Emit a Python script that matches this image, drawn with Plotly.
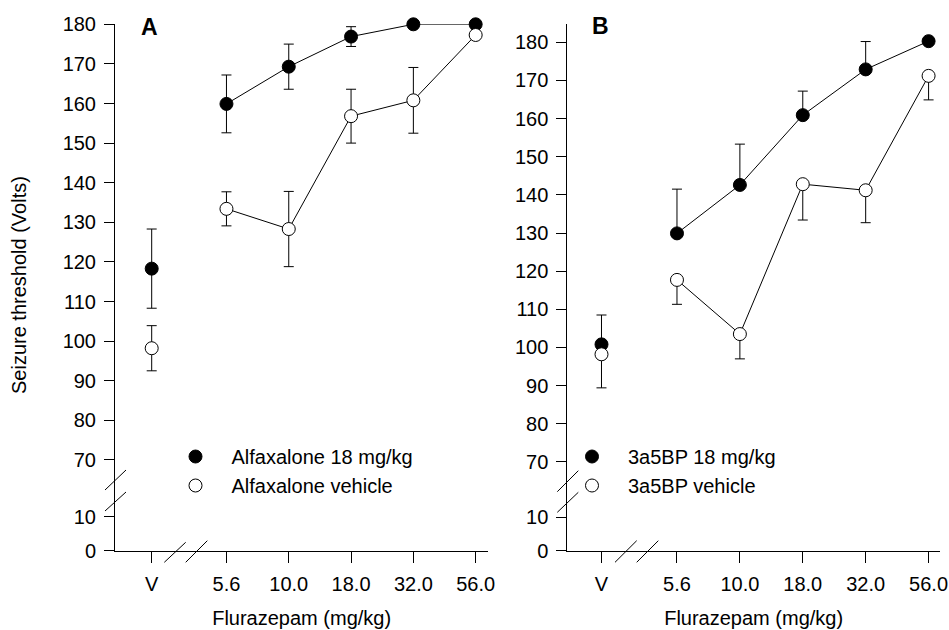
import plotly.graph_objects as go

W, H = 949, 630
FONT = "Arial, Liberation Sans, sans-serif"

# ---------------- data ----------------
x_labels = ["V", "5.6", "10.0", "18.0", "32.0", "56.0"]
x_positions = [0, 1.2, 2.2, 3.2, 4.2, 5.2]   # broken axis: V set apart from the doses

# Panel A (alfaxalone)
a_drug_v, a_drug_v_err = 118.3, 10.0
a_drug = [159.9, 169.3, 176.9, 180.0, 180.0]
a_drug_err = [7.3, 5.7, 2.5, 0.0, 0.0]
a_veh_v, a_veh_v_err = 98.2, 5.7
a_veh = [133.4, 128.3, 156.8, 160.8, 177.3]
a_veh_err = [4.3, 9.5, 6.8, 8.3, 0.0]

# Panel B (3a5BP)
b_drug_v, b_drug_v_err = 100.8, 7.7
b_drug = [129.9, 142.6, 160.9, 172.9, 180.3]
b_drug_err = [11.6, 10.7, 6.3, 7.3, 0.0]
b_veh_v, b_veh_v_err = 98.2, 8.8
b_veh = [117.7, 103.5, 142.8, 141.2, 171.2]
b_veh_err = [6.4, 6.5, 9.4, 8.5, 6.3]

y_top_ticks = [70, 80, 90, 100, 110, 120, 130, 140, 150, 160, 170, 180]
y_bot_ticks = [0, 10]

# ---------------- helpers ----------------
def px(x):
    return x / W

def py(y):
    return 1 - y / H

fig = go.Figure()

MSIZE = 13


def err(up, down):
    return dict(type="data", array=up, arrayminus=down, symmetric=False,
                color="black", thickness=1, width=5)


def add_series(xa, ya, v_val, v_err, vals, errs, filled, name, legend, mode):
    fill = "black" if filled else "white"
    marker = dict(size=MSIZE, color=fill, line=dict(color="black", width=1))
    zeros = [0] * len(errs)
    if mode == "both":
        ev, ed = err([v_err], [v_err]), err(errs, errs)
    elif mode == "up":
        ev, ed = err([v_err], [0]), err(errs, zeros)
    else:
        ev, ed = err([0], [v_err]), err(zeros, errs)
    fig.add_trace(go.Scatter(x=x_positions[1:], y=vals, mode="lines+markers", name=name,
                             marker=marker, line=dict(color="black", width=1),
                             error_y=ed, xaxis=xa, yaxis=ya, legend=legend,
                             legendgroup=name, showlegend=False, cliponaxis=False))
    fig.add_trace(go.Scatter(x=x_positions[:1], y=[v_val], mode="markers", name=name,
                             marker=marker, error_y=ev, xaxis=xa, yaxis=ya, legend=legend,
                             showlegend=True, legendgroup=name, cliponaxis=False))


add_series("x", "y", a_drug_v, a_drug_v_err, a_drug, a_drug_err, True, "Alfaxalone 18 mg/kg", "legend", "both")
add_series("x", "y", a_veh_v, a_veh_v_err, a_veh, a_veh_err, False, "Alfaxalone vehicle", "legend", "both")
add_series("x2", "y3", b_drug_v, b_drug_v_err, b_drug, b_drug_err, True, "3a5BP 18 mg/kg", "legend2", "up")
add_series("x2", "y3", b_veh_v, b_veh_v_err, b_veh, b_veh_err, False, "3a5BP vehicle", "legend2", "down")

# empty traces so the lower (0-10) subplots exist
fig.add_trace(go.Scatter(x=[], y=[], xaxis="x", yaxis="y2", showlegend=False))
fig.add_trace(go.Scatter(x=[], y=[], xaxis="x2", yaxis="y4", showlegend=False))

BREAK = 500  # pixel row where the upper and lower y segments meet

tickfont = dict(family=FONT, size=20, color="black")

common_y = dict(showline=True, linecolor="black", linewidth=1, ticks="outside", ticklen=10,
                tickcolor="black", tickwidth=1, showgrid=False, zeroline=False,
                tickfont=tickfont, ticklabelstandoff=4, fixedrange=True, automargin=False)
common_x = dict(showline=True, linecolor="black", linewidth=1, ticks="outside", ticklen=11,
                tickcolor="black", tickwidth=1, showgrid=False, zeroline=False,
                tickfont=tickfont, tickvals=x_positions, ticktext=x_labels,
                ticklabelstandoff=4, fixedrange=True, automargin=False)

# geometry (pixels)
a_x0, a_x1, a_v, a_step = 115, 488.3, 151.7, 62.3
a_top, a_180, a_scale = 24.3, 24.3, 3.96
b_x0, b_x1, b_v, b_step = 567.3, 940, 601.5, 62.9
b_top, b_180, b_scale = 24.0, 42.3, 3.814
zero_px, bot_scale_a, bot_scale_b = 550.7, 3.4, 3.34

xtitle = dict(family=FONT, size=20, color="black")
legfont = dict(family=FONT, size=20, color="black")

fig.update_layout(
    template="none",
    width=W, height=H, margin=dict(l=0, r=0, t=0, b=0),
    paper_bgcolor="white", plot_bgcolor="white",
    font=dict(family=FONT, color="black"),
    xaxis=dict(common_x, domain=[px(a_x0), px(a_x1)], anchor="y2",
               range=[(a_x0 - a_v) / a_step, (a_x1 - a_v) / a_step],
               title=dict(text="Flurazepam (mg/kg)", font=xtitle, standoff=17)),
    yaxis=dict(common_y, domain=[py(BREAK), py(a_top)], anchor="x",
               range=[180 - (BREAK - a_180) / a_scale, 180 + (a_180 - a_top) / a_scale],
               tickvals=y_top_ticks),
    yaxis2=dict(common_y, domain=[py(zero_px), py(BREAK)], anchor="x",
                range=[0, (zero_px - BREAK) / bot_scale_a], tickvals=y_bot_ticks),
    xaxis2=dict(common_x, domain=[px(b_x0), px(b_x1)], anchor="y4",
                range=[(b_x0 - b_v) / b_step, (b_x1 - b_v) / b_step],
                title=dict(text="Flurazepam (mg/kg)", font=xtitle, standoff=17)),
    yaxis3=dict(common_y, domain=[py(BREAK), py(b_top)], anchor="x2",
                range=[180 - (BREAK - b_180) / b_scale, 180 + (b_180 - b_top) / b_scale],
                tickvals=y_top_ticks),
    yaxis4=dict(common_y, domain=[py(zero_px), py(BREAK)], anchor="x2",
                range=[0, (zero_px - BREAK) / bot_scale_b], tickvals=y_bot_ticks),
    legend=dict(x=px(159.5), y=py(437), xanchor="left", yanchor="top", font=legfont,
                bgcolor="rgba(0,0,0,0)", borderwidth=0, itemwidth=62, tracegroupgap=0),
    legend2=dict(x=px(556), y=py(437), xanchor="left", yanchor="top", font=legfont,
                 bgcolor="rgba(0,0,0,0)", borderwidth=0, itemwidth=62, tracegroupgap=0),
    showlegend=True,
)

# axis-break slashes
slashes = [
    ((105, 490), (126, 470)), ((105, 511), (126, 492)),                  # panel A y
    ((557.3, 491.7), (578.3, 470.7)), ((557.3, 512.3), (578.3, 492.3)),  # panel B y
    ((164.3, 562.3), (185.7, 542.3)), ((185.7, 562.3), (207.3, 540.7)),  # panel A x
    ((615, 562.3), (636.7, 540.7)), ((636.7, 562.3), (658.3, 540.7)),    # panel B x
]
for (x0, y0), (x1, y1) in slashes:
    fig.add_shape(type="line", xref="paper", yref="paper",
                  x0=px(x0), y0=py(y0), x1=px(x1), y1=py(y1),
                  line=dict(color="black", width=1))

# panel letters and y title
fig.add_annotation(text="<b>A</b>", x=px(149.5), y=py(27.5), xref="paper", yref="paper",
                   xanchor="center", yanchor="middle", showarrow=False,
                   font=dict(family=FONT, size=23, color="black"))
fig.add_annotation(text="<b>B</b>", x=px(600.3), y=py(26.3), xref="paper", yref="paper",
                   xanchor="center", yanchor="middle", showarrow=False,
                   font=dict(family=FONT, size=23, color="black"))
fig.add_annotation(text="Seizure threshold (Volts)", x=px(19), y=py(285), xref="paper", yref="paper",
                   xanchor="center", yanchor="middle", showarrow=False, textangle=-90,
                   font=dict(family=FONT, size=20, color="black"))

fig.write_html("out.html", config={"displayModeBar": False},
               post_script="document.body.style.margin='0px';document.body.style.overflow='hidden';")
